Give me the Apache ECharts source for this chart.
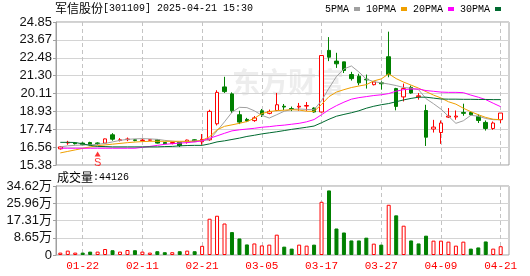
<!DOCTYPE html>
<html><head><meta charset="utf-8">
<script src="https://cdn.jsdelivr.net/npm/echarts@6/dist/echarts.min.js"></script>
<style>html,body{margin:0;padding:0;background:#fff}#c{width:530px;height:276px}</style>
</head><body><div id="c"></div>
<script>
// ---------- data ----------
const stockName = '军信股份';
const titleRest = '[301109] 2025-04-21 15:30';
const volTitle = '成交量';
const lastVolText = ':44126';
const watermark = '东方财富';
const dates = ['01-17','01-20','01-21','01-22','01-23','01-24','01-27','02-05','02-06','02-07',
 '02-10','02-11','02-12','02-13','02-14','02-17','02-18','02-19','02-20','02-21',
 '02-24','02-25','02-26','02-27','02-28','03-03','03-04','03-05','03-06','03-07',
 '03-10','03-11','03-12','03-13','03-14','03-17','03-18','03-19','03-20','03-21',
 '03-24','03-25','03-26','03-27','03-28','03-31','04-01','04-02','04-03','04-07',
 '04-08','04-09','04-10','04-11','04-14','04-15','04-16','04-17','04-18','04-21'];
const labelDates = ['01-22','02-11','02-21','03-05','03-17','03-27','04-09','04-21'];
const openP = [16.45,16.84,16.84,16.83,16.87,16.84,16.83,17.38,17.00,17.06,
 17.05,17.00,17.02,17.05,16.87,16.80,16.88,16.90,17.05,16.92,
 17.05,18.11,20.55,20.09,18.71,18.40,18.32,18.97,18.80,18.99,
 19.27,19.12,19.22,19.28,19.15,18.89,22.97,22.26,22.21,21.37,
 21.26,21.06,20.70,20.82,22.55,20.44,19.89,20.52,19.90,18.99,
 17.76,17.53,18.55,18.56,18.86,18.86,18.60,18.20,17.80,18.38];
const closeP = [16.58,16.88,16.79,16.72,16.72,16.80,17.11,17.09,17.05,17.10,
 17.01,17.03,17.05,16.83,16.79,16.87,16.66,17.03,16.93,17.08,
 18.93,20.19,20.24,18.97,18.22,18.30,18.50,18.72,18.93,19.37,
 19.22,19.07,19.27,19.32,18.89,22.63,22.52,22.08,21.64,21.10,
 20.82,21.02,20.88,20.76,21.37,19.26,20.44,20.15,19.96,17.22,
 17.89,18.16,18.62,18.62,18.80,18.71,18.33,17.80,18.16,18.82];
const lowP = [16.40,16.72,16.74,16.68,16.68,16.70,16.80,16.99,16.94,16.96,
 16.95,16.95,16.98,16.80,16.76,16.75,16.57,16.80,16.90,16.72,
 16.98,18.00,20.15,18.82,18.09,18.22,18.24,18.56,18.74,18.95,
 19.02,18.95,18.97,18.97,18.85,18.85,22.26,21.81,21.47,20.97,
 20.66,20.44,20.65,20.37,21.19,19.00,19.59,20.10,19.71,16.64,
 17.53,16.78,18.49,18.38,18.64,18.64,18.16,17.66,17.71,18.16];
const highP = [16.62,16.98,16.90,16.88,16.92,16.88,17.13,17.49,17.16,17.20,
 17.10,17.12,17.08,17.06,16.90,16.92,16.90,17.06,17.08,17.43,
 19.04,20.33,21.22,20.19,18.97,18.50,18.62,19.09,19.05,20.15,
 19.42,19.25,19.49,19.55,19.20,22.63,23.85,22.81,22.21,21.55,
 21.42,21.37,20.90,20.92,24.21,20.49,20.77,20.64,20.15,19.37,
 18.37,18.33,19.15,18.99,19.44,18.93,18.73,18.33,18.26,18.82];
const ma5 = [16.58,16.65,16.68,16.71,16.71,16.75,16.81,16.91,17.01,17.08,
 17.11,17.13,17.11,17.08,17.01,16.96,16.91,16.93,16.98,17.00,
 17.05,17.64,18.24,18.87,19.20,19.18,18.97,18.67,18.49,18.71,
 18.94,19.06,19.09,19.06,19.04,19.64,20.47,21.24,21.74,21.94,
 21.54,21.07,20.90,20.82,20.74,20.64,20.51,20.47,20.37,19.77,
 19.44,19.08,18.61,18.14,18.31,18.67,18.61,18.46,18.38,18.38];
const ma10 = [16.18,16.28,16.38,16.48,16.58,16.66,16.71,16.76,16.81,16.86,
 16.90,16.93,16.95,16.95,16.95,16.95,16.95,16.95,16.95,17.01,
 17.25,17.71,17.94,18.04,18.14,18.26,18.47,18.79,18.91,18.98,
 19.01,19.04,19.02,18.94,18.93,19.39,19.91,20.21,20.37,20.51,
 20.61,20.70,20.95,21.08,21.42,21.10,20.87,20.67,20.47,20.24,
 20.01,19.82,19.57,19.41,19.14,18.91,18.71,18.53,18.41,18.38];
const ma20 = [16.49,16.49,16.49,16.49,16.49,16.49,16.49,16.49,16.49,16.49,
 16.49,16.55,16.61,16.68,16.75,16.79,16.83,16.86,16.91,16.98,
 17.15,17.31,17.48,17.64,17.71,17.76,17.81,17.88,17.92,17.98,
 18.02,18.08,18.14,18.24,18.39,18.71,19.04,19.31,19.54,19.74,
 19.84,19.91,19.98,20.03,20.11,20.27,20.37,20.41,20.41,20.31,
 20.26,20.21,20.19,20.19,20.17,20.01,19.87,19.71,19.47,19.24];
const ma30 = [16.88,16.88,16.87,16.78,16.68,16.61,16.60,16.58,16.58,16.58,
 16.58,16.58,16.58,16.58,16.60,16.61,16.65,16.67,16.68,16.68,
 16.78,16.91,16.98,17.07,17.16,17.27,17.35,17.44,17.51,17.58,
 17.66,17.74,17.81,17.88,17.96,18.18,18.41,18.61,18.73,18.84,
 18.97,19.14,19.27,19.37,19.45,19.57,19.69,19.79,19.87,19.87,
 19.81,19.75,19.74,19.74,19.73,19.73,19.72,19.72,19.71,19.71];
const volume = [1.2,2.2,1.2,1.2,1.7,1.7,3.0,2.4,1.7,2.5,
 2.4,1.7,1.2,1.9,1.4,1.4,1.9,2.2,1.9,4.6,
 18.2,19.7,15.8,11.5,8.3,5.3,5.8,4.8,5.2,10.2,
 4.2,3.2,5.2,4.7,5.2,26.7,32.4,13.3,11.3,7.3,
 7.3,8.7,5.7,5.2,25.2,19.9,14.7,7.3,5.8,9.7,
 7.2,7.2,6.7,4.7,6.7,3.2,3.8,6.8,3.2,4.41];
const volUp = [1,1,1,0,0,1,1,0,1,1, 0,1,1,0,0,1,0,1,0,1,
 1,1,1,0,0,0,1,1,1,1, 0,0,1,1,0,1,0,0,0,0,
 0,0,1,0,1,0,1,0,0,0, 1,1,1,1,1,0,0,0,1,1];
const yTicks = ['15.38','16.56','17.74','18.93','20.11','21.30','22.48','23.67','24.85'];
const volTicks = ['0','8.65万','17.31万','25.96万','34.62万'];
const maNames = ['5PMA','10PMA','20PMA','30PMA'];
const signalIdx = [5];
const signalText = ['S'];

// ---------- styles / layout ----------
const RED = '#ff0000', GREEN = '#008000';
const maColors = ['#a0a0a0','#f0a000','#ff00ff','#006a30'];
const FRAME_L = 56, FRAME_W = 453;
const SLOT = 7.464;
const DATA_L = FRAME_L + 4.3, DATA_W = SLOT * (dates.length - 1);
const MAIN_T = 22, MAIN_H = 143, VOL_T = 186, VOL_H = 69;
const yMin = parseFloat(yTicks[0]), yMax = parseFloat(yTicks[yTicks.length-1]);
const yStep = (yMax - yMin) / (yTicks.length - 1);
const vMax = parseFloat(volTicks[volTicks.length-1]);
const vStep = vMax / (volTicks.length - 1);
const labelSet = new Set(labelDates);
const showIdx = (i) => labelSet.has(dates[i]);
const gridC = '#d4d4d4', frameC = '#a0a0a0', dashC = '#c4c4c4';
const numFont = 'Liberation Sans, Noto Sans CJK SC';

const chart = echarts.init(document.getElementById('c'), null, {renderer: 'canvas'});
const kData = dates.map((d, i) => [openP[i], closeP[i], lowP[i], highP[i]]);
const volData = volume.map((v, i) => ({
  value: v,
  itemStyle: volUp[i] ? {color: '#ffffff', borderColor: RED, borderWidth: 1}
                      : {color: GREEN, borderColor: GREEN, borderWidth: 1}
}));
const sigData = signalIdx.map((i, j) => ({value: [i, lowP[i]], name: signalText[j]}));
const maSeries = [ma5, ma10, ma20, ma30].map((arr, j) => ({
  name: maNames[j], type: 'line', xAxisIndex: 1, yAxisIndex: 1, data: arr,
  showSymbol: false, symbol: 'none', smooth: false, clip: false,
  itemStyle: {color: maColors[j]}, lineStyle: {color: maColors[j], width: 1}, z: 3
}));

const frameY = (min, max, step, ticks, isVol) => ({
  type: 'value', min: min, max: max, interval: step,
  axisLine: {show: true, lineStyle: {color: frameC}},
  axisTick: {show: true, length: 3, lineStyle: {color: frameC}},
  splitLine: {show: true, lineStyle: {color: gridC, width: 1}},
  axisLabel: {
    margin: 4, color: '#111', fontSize: 13, fontFamily: numFont,
    formatter: (v) => { const k = Math.round((v - min) / step); return ticks[k] !== undefined ? ticks[k] : ''; }
  }
});
const hiddenY = (min, max, gi) => ({type: 'value', gridIndex: gi, min: min, max: max, show: false,
  axisLine: {show: false}, splitLine: {show: false}});
const frameX = (gi) => ({type: 'value', gridIndex: gi, min: 0, max: 1, show: false, splitLine: {show: false}});
const dataX = (gi, withLabels) => ({
  type: 'category', gridIndex: gi, data: dates, boundaryGap: false,
  axisLine: {show: false}, axisTick: {show: false},
  axisLabel: withLabels ? {show: true, interval: (i) => showIdx(i), color: RED,
    fontFamily: 'Liberation Mono', fontSize: 11, margin: 6, hideOverlap: false} : {show: false},
  splitLine: {show: true, interval: (i) => showIdx(i), lineStyle: {color: dashC, type: [4, 3], width: 1}}
});

chart.setOption({
  animation: false,
  backgroundColor: '#ffffff',
  textStyle: {fontFamily: numFont},
  grid: [
    {left: FRAME_L, top: MAIN_T, width: FRAME_W, height: MAIN_H, show: true, borderColor: frameC, borderWidth: 1, backgroundColor: 'transparent'},
    {left: DATA_L, top: MAIN_T, width: DATA_W, height: MAIN_H},
    {left: FRAME_L, top: VOL_T, width: FRAME_W, height: VOL_H, show: true, borderColor: frameC, borderWidth: 1, backgroundColor: 'transparent'},
    {left: DATA_L, top: VOL_T, width: DATA_W, height: VOL_H}
  ],
  xAxis: [frameX(0), dataX(1, false), frameX(2), dataX(3, true)],
  yAxis: [
    Object.assign({gridIndex: 0}, frameY(yMin, yMax, yStep, yTicks, false)),
    hiddenY(yMin, yMax, 1),
    Object.assign({gridIndex: 2}, frameY(0, vMax, vStep, volTicks, true)),
    hiddenY(0, vMax, 3)
  ],
  legend: {
    data: maNames, left: 325, top: 4, itemWidth: 6, itemHeight: 4, itemGap: 6,
    align: 'right', icon: 'rect', padding: 0, selectedMode: false,
    textStyle: {fontFamily: 'Liberation Mono', fontSize: 10, color: '#000', padding: [0, 0, 0, 0]}
  },
  graphic: [
    {type: 'text', left: 232, top: 68, z: -10, silent: true,
     style: {text: watermark, font: 'bold 28px "Noto Sans CJK SC"', fill: '#ededed'}},
    {type: 'text', left: 55, top: 2, z: 10,
     style: {text: '{a|' + stockName + '}{b|' + titleRest + '}', rich: {
       a: {font: '12px "Noto Sans CJK SC"', fill: '#000'},
       b: {font: '10px "Liberation Mono"', fill: '#000'}}}},
    {type: 'text', left: 57, top: 171, z: 10,
     style: {text: '{a|' + volTitle + '}{b|' + lastVolText + '}', rich: {
       a: {font: '12px "Noto Sans CJK SC"', fill: '#000'},
       b: {font: '10px "Liberation Mono"', fill: '#000'}}}}
  ],
  series: [
    {type: 'candlestick', xAxisIndex: 1, yAxisIndex: 1, data: kData, barWidth: 4, clip: false, z: 2,
     itemStyle: {color: '#ffffff', color0: GREEN, borderColor: RED, borderColor0: GREEN, borderWidth: 1}},
    ...maSeries,
    {type: 'scatter', xAxisIndex: 1, yAxisIndex: 1, data: sigData, symbol: 'triangle',
     symbolSize: [6, 5], symbolOffset: [0, 9], itemStyle: {color: RED}, z: 4, clip: false,
     label: {show: true, position: 'bottom', distance: 1, formatter: (p) => p.name,
       color: RED, fontSize: 11, fontFamily: 'Liberation Sans'}},
    {type: 'bar', xAxisIndex: 3, yAxisIndex: 3, data: volData, barWidth: 4, clip: false}
  ]
});
</script></body></html>
